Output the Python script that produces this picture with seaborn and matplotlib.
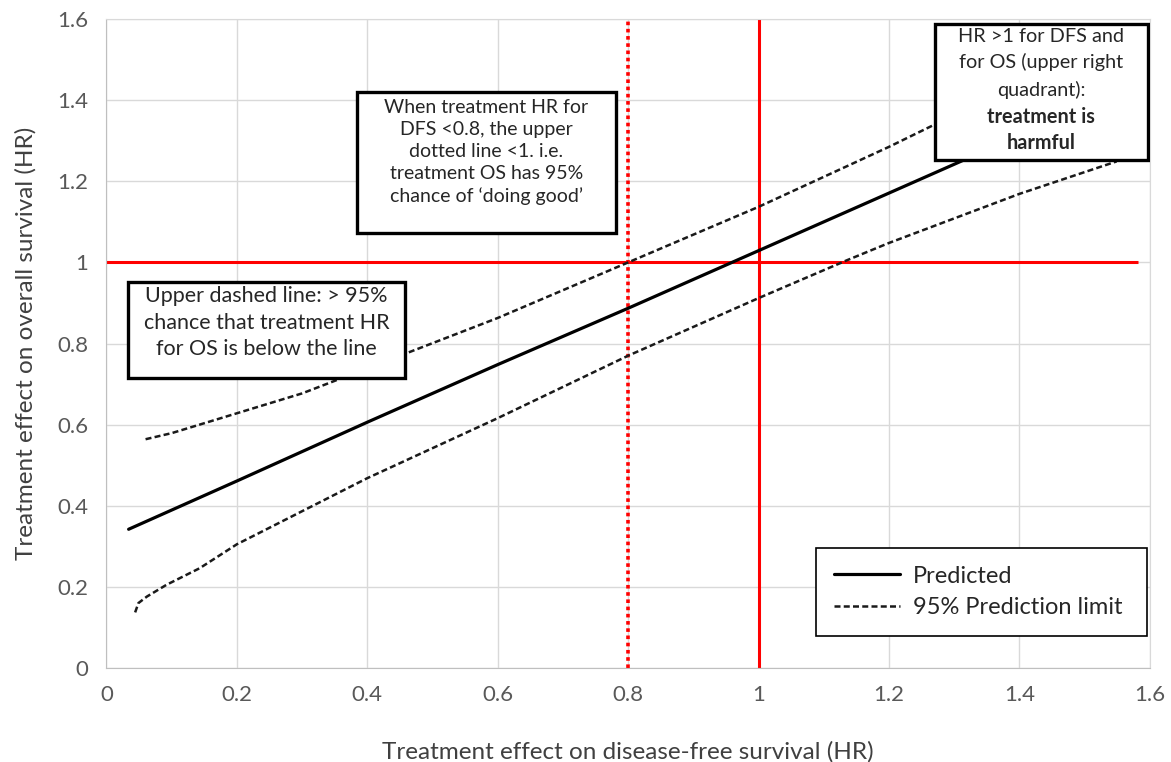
import numpy as np
import pandas as pd
import seaborn as sns
import matplotlib
matplotlib.use('Agg')
import matplotlib.pyplot as plt
from matplotlib.patches import Rectangle

# Values (HR for DFS on x, HR for OS on y)
dfs_pred = [0.034, 0.2, 0.4, 0.6, 0.8, 1.0, 1.2, 1.4, 1.56]
os_pred = [0.342, 0.461, 0.606, 0.748, 0.887, 1.029, 1.171, 1.313, 1.427]

dfs_upper = [0.06, 0.1, 0.2, 0.3, 0.46, 0.6, 0.8, 1.0, 1.2, 1.27, 1.4, 1.56]
os_upper = [0.564, 0.579, 0.628, 0.677, 0.776, 0.863, 1.0, 1.137, 1.285, 1.34, 1.43, 1.55]

dfs_lower = [0.044, 0.049, 0.062, 0.092, 0.143, 0.2, 0.4, 0.6, 0.8, 1.0, 1.135, 1.2, 1.4, 1.549]
os_lower = [0.137, 0.160, 0.176, 0.205, 0.246, 0.305, 0.468, 0.616, 0.770, 0.912, 1.005, 1.048, 1.169, 1.249]

ticks = [0, 0.2, 0.4, 0.6, 0.8, 1, 1.2, 1.4, 1.6]
tick_labels = ['0', '0.2', '0.4', '0.6', '0.8', '1', '1.2', '1.4', '1.6']

sns.set_style('white')
plt.rcParams['font.family'] = ['Lato', 'DejaVu Sans']

fig = plt.figure(figsize=(11.71, 7.62), dpi=100)
ax = fig.add_axes([0.0909, 0.1234, 0.8911, 0.8516])

# red reference lines
ax.axvline(1.0, color='#ff0000', lw=2.2, zorder=2)
ax.axvline(0.8, color='#ff0000', lw=2.6, linestyle=(0, (1, 1)), zorder=2)
ax.hlines(1.0, 0, 1.582, color='#ff0000', lw=2.2, zorder=2)

dash = (0, (2.4, 1.3))
sns.lineplot(x=dfs_pred, y=os_pred, ax=ax, color='black', lw=2.3,
             sort=False, label='Predicted', zorder=3)
sns.lineplot(x=dfs_upper, y=os_upper, ax=ax, color='#1a1a1a', lw=1.8,
             linestyle=dash, sort=False, label='95% Prediction limit', zorder=3)
sns.lineplot(x=dfs_lower, y=os_lower, ax=ax, color='#1a1a1a', lw=1.8,
             linestyle=dash, sort=False, label='_nolegend_', zorder=3)

ax.set_xlim(0, 1.6)
ax.set_ylim(0, 1.6)
ax.set_xticks(ticks)
ax.set_xticklabels(tick_labels)
ax.set_yticks(ticks)
ax.set_yticklabels(tick_labels)
ax.grid(True, color='#d9d9d9', lw=1)
ax.set_axisbelow(True)
ax.tick_params(axis='both', length=0, labelsize=16, colors='#595959')
ax.tick_params(axis='x', pad=12)
ax.tick_params(axis='y', pad=13)
for s in ['left', 'bottom']:
    ax.spines[s].set_color('#bfbfbf')
for s in ['top', 'right']:
    ax.spines[s].set_color('#d9d9d9')

ax.set_xlabel('Treatment effect on disease-free survival (HR)', fontsize=17.5,
              color='#404040', labelpad=26)
ax.set_ylabel('Treatment effect on overall survival (HR)', fontsize=17.5,
              color='#404040', labelpad=15)

# annotation boxes
def box(x0, y0, x1, y1):
    ax.add_patch(Rectangle((x0, y0), x1 - x0, y1 - y0, facecolor='white',
                           edgecolor='black', lw=2.4, zorder=5))

box(0.384, 1.073, 0.781, 1.421)
ax.text(0.5825, 1.272, 'When treatment HR for\nDFS <0.8, the upper\ndotted line <1. i.e.\n'
        'treatment OS has 95%\nchance of \u2018doing good\u2019',
        ha='center', va='center', fontsize=14, color='#262626',
        linespacing=1.36, zorder=6)

box(0.033, 0.716, 0.458, 0.952)
ax.text(0.2455, 0.851, 'Upper dashed line: > 95%\nchance that treatment HR\nfor OS is below the line',
        ha='center', va='center', fontsize=15.5, color='#262626',
        linespacing=1.4, zorder=6)

box(1.270, 1.253, 1.597, 1.589)
lines2 = [('HR >1 for DFS and', 'normal', 1.558),
          ('for OS (upper right', 'normal', 1.493),
          ('quadrant):', 'normal', 1.426),
          ('treatment is', 'bold', 1.359),
          ('harmful', 'bold', 1.295)]
for txt, w, yy in lines2:
    ax.text(1.4335, yy, txt, ha='center', va='center', fontsize=14.3,
            color='#262626', fontweight=w, zorder=6)

leg = ax.legend(loc='upper left', bbox_to_anchor=(0.68, 0.1849, 0.317, 0),
                mode='expand', fontsize=17, frameon=True, fancybox=False,
                framealpha=1, edgecolor='black', handlelength=2.8,
                handletextpad=0.55, borderaxespad=0, labelspacing=0.45,
                borderpad=0.75)
leg.get_frame().set_linewidth(1.2)
leg.set_zorder(7)
for t in leg.get_texts():
    t.set_color('#262626')

fig.savefig('out.png', dpi=100)
